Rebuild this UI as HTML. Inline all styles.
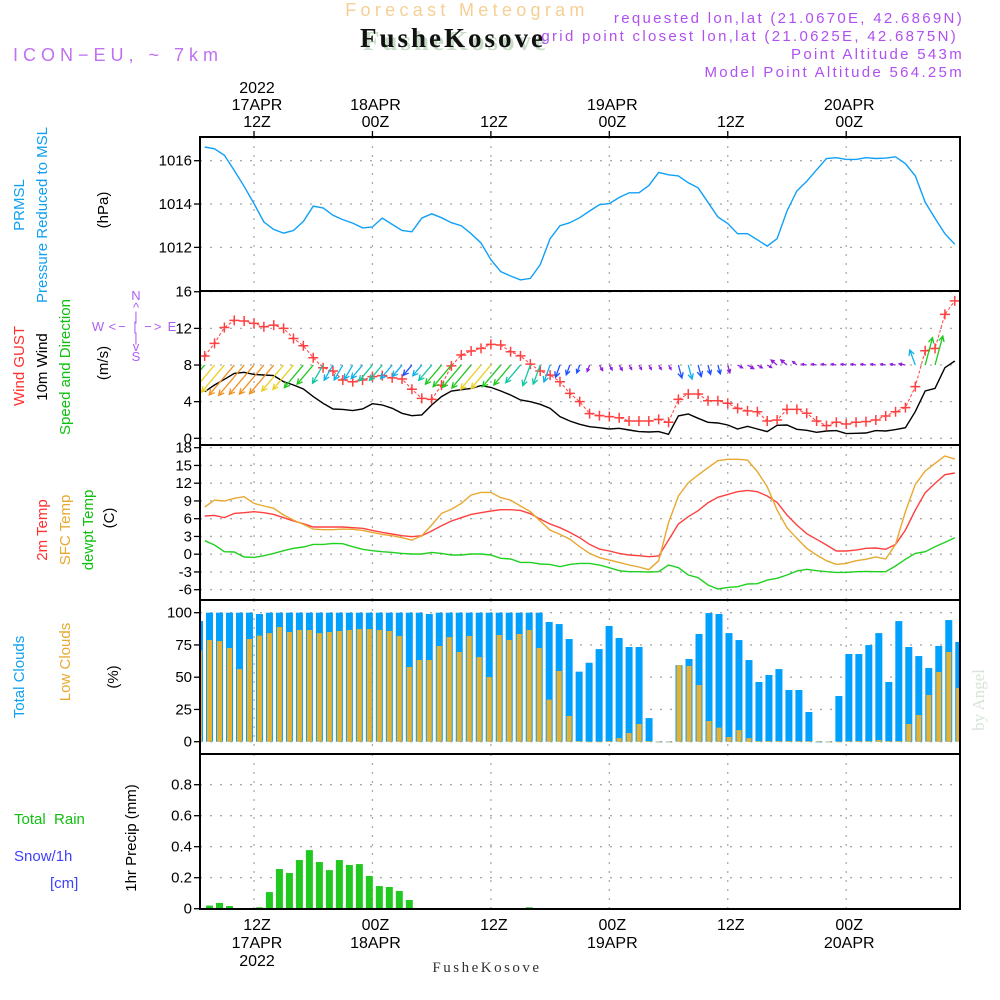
<!DOCTYPE html>
<html><head><meta charset="utf-8">
<style>
html,body{margin:0;padding:0;background:#fff;}
svg{display:block;font-family:"Liberation Sans",sans-serif;}
</style></head>
<body>
<svg id="chart" width="1000" height="1000" viewBox="0 0 1000 1000" xmlns="http://www.w3.org/2000/svg">
<g>
<text x="467" y="16" font-size="18" fill="#f5cf95" text-anchor="middle" letter-spacing="4.3">Forecast Meteogram</text>
<text x="456" y="50" font-size="27" font-weight="bold" font-family="Liberation Serif,serif" fill="#c8dcc8" text-anchor="middle" letter-spacing="3">FusheKosove</text>
<text x="453" y="47" font-size="27" font-weight="bold" font-family="Liberation Serif,serif" fill="#111" text-anchor="middle" letter-spacing="3">FusheKosove</text>
<text x="13" y="61" font-size="18" fill="#c070f0" letter-spacing="5">ICON−EU, ~ 7km</text>
<g font-size="15" fill="#b050f0" text-anchor="end" letter-spacing="2.3">
<text x="964" y="23">requested lon,lat (21.0670E, 42.6869N)</text>
<text x="958" y="41">grid point closest lon,lat (21.0625E, 42.6875N)</text>
<text x="964" y="59">Point Altitude 543m</text>
<text x="964" y="77">Model Point Altitude 564.25m</text>
</g>
</g>
<g id="main"></g>
<g>
<text transform="translate(24,205) rotate(-90)" font-size="15" fill="#10a0f0" text-anchor="middle">PRMSL</text>
<text transform="translate(47,215) rotate(-90)" font-size="15" fill="#10a0f0" text-anchor="middle">Pressure Reduced to MSL</text>
<text transform="translate(108,210) rotate(-90)" font-size="15" fill="#000" text-anchor="middle">(hPa)</text>
<text transform="translate(24,366) rotate(-90)" font-size="15" fill="#ff3030" text-anchor="middle">Wind GUST</text>
<text transform="translate(47,367) rotate(-90)" font-size="15" fill="#000" text-anchor="middle">10m Wind</text>
<text transform="translate(70,367) rotate(-90)" font-size="15" fill="#10c010" text-anchor="middle">Speed and Direction</text>
<text transform="translate(108,363) rotate(-90)" font-size="15" fill="#000" text-anchor="middle">(m/s)</text>
<g font-size="13" fill="#b060f0">
<text x="136" y="300" text-anchor="middle">N</text>
<text x="136" y="312" text-anchor="middle">^</text>
<text x="136" y="321" text-anchor="middle">|</text>
<text x="98" y="331" text-anchor="middle">W</text>
<text x="136" y="331" text-anchor="middle" letter-spacing="2">&lt;− | −&gt;</text>
<text x="172" y="331" text-anchor="middle">E</text>
<text x="136" y="342" text-anchor="middle">|</text>
<text x="136" y="351" text-anchor="middle">v</text>
<text x="136" y="361" text-anchor="middle">S</text>
</g>
<text transform="translate(47,530) rotate(-90)" font-size="15" fill="#ff3030" text-anchor="middle">2m Temp</text>
<text transform="translate(70,530) rotate(-90)" font-size="15" fill="#e8a830" text-anchor="middle">SFC Temp</text>
<text transform="translate(93,530) rotate(-90)" font-size="15" fill="#10c010" text-anchor="middle">dewpt Temp</text>
<text transform="translate(114,518) rotate(-90)" font-size="15" fill="#000" text-anchor="middle">(C)</text>
<text transform="translate(24,677) rotate(-90)" font-size="15" fill="#10a0f0" text-anchor="middle">Total Clouds</text>
<text transform="translate(70,662) rotate(-90)" font-size="15" fill="#e8a830" text-anchor="middle">Low Clouds</text>
<text transform="translate(118,677) rotate(-90)" font-size="15" fill="#000" text-anchor="middle">(%)</text>
<text x="14" y="824" font-size="15" fill="#10c010" xml:space="preserve">Total  Rain</text>
<text x="14" y="861" font-size="15" fill="#4040ff">Snow/1h</text>
<text x="50" y="888" font-size="15" fill="#4040ff">[cm]</text>
<text transform="translate(136,838) rotate(-90)" font-size="15" fill="#000" text-anchor="middle">1hr Precip (mm)</text>
</g>
<text transform="translate(984,700) rotate(-90)" font-size="17" font-family="Liberation Serif,serif" fill="#d8e4d8" text-anchor="middle">by Angel</text>
<text x="487" y="972" font-size="15" font-family="Liberation Serif,serif" fill="#333" text-anchor="middle" letter-spacing="2.5">FusheKosove</text>
</svg>
<script>
// ---- data (hours since 17APR 00Z) ----
const hoursStart = 7;
const pressure = [1016.63,1016.55,1016.25,1015.55,1014.82,1014.02,1013.17,1012.83,1012.66,1012.78,1013.2,1013.9,1013.82,1013.48,1013.28,1013.12,1012.9,1012.94,1013.35,1013.06,1012.78,1012.72,1013.35,1013.55,1013.37,1013.14,1013.0,1012.63,1012.2,1011.43,1010.88,1010.68,1010.5,1010.57,1011.2,1012.4,1013.0,1013.14,1013.37,1013.68,1013.97,1014.02,1014.3,1014.52,1014.52,1014.85,1015.46,1015.35,1015.3,1014.98,1014.75,1014.08,1013.4,1013.1,1012.63,1012.63,1012.35,1012.06,1012.4,1013.68,1014.6,1015.05,1015.58,1016.1,1016.14,1016.06,1016.06,1016.14,1016.1,1016.12,1016.18,1015.86,1015.3,1014.08,1013.34,1012.63,1012.14];
const windGust = [8.98,10.36,12.1,12.87,12.8,12.55,12.18,12.36,12.0,10.9,10.1,8.8,7.7,7.35,6.36,6.18,6.36,6.73,6.84,6.6,6.47,5.35,4.36,4.25,5.8,7.9,9.1,9.53,9.82,10.25,10.18,9.45,9.0,8.1,7.35,6.9,6.18,4.9,4.0,2.7,2.47,2.36,2.25,1.89,1.89,1.89,2.07,1.75,4.25,4.84,4.84,4.1,4.1,3.82,3.27,3.0,2.9,1.89,2.0,3.16,3.16,2.73,1.89,1.38,1.75,1.56,1.75,1.82,2.0,2.44,2.9,3.35,5.64,9.56,9.82,13.53,15.0];
const wind10m = [5.09,5.82,6.44,7.09,7.2,6.98,6.91,6.84,6.18,5.82,5.38,4.55,3.82,3.2,3.16,3.02,3.2,3.78,3.64,3.27,2.73,2.47,2.55,3.64,4.55,5.16,5.31,5.45,5.75,5.56,5.16,4.73,4.18,4.0,3.71,3.27,2.36,1.89,1.53,1.27,1.16,1.02,1.09,0.91,0.73,0.69,0.73,0.44,2.44,2.65,2.18,1.75,1.67,1.45,1.02,1.31,1.02,0.73,1.42,1.45,0.98,0.87,0.65,0.8,0.84,0.51,0.55,0.58,0.84,0.8,0.95,1.16,2.91,5.16,5.45,7.71,8.44];
const windDir = [40,40,40,40,40,40,40,40,40,40,40,40,30,30,30,30,40,40,40,40,40,40,40,40,40,40,40,40,40,40,40,40,40,20,20,20,20,20,20,20,330,330,330,330,330,330,330,330,345,345,345,345,345,345,300,300,300,300,130,130,130,100,100,100,100,100,100,100,100,100,100,100,160,195,195,200,200];
const temp2m = [6.45,6.56,6.17,6.9,7.01,7.18,7.01,6.73,6.17,5.61,5.15,4.59,4.59,4.59,4.59,4.48,4.37,4.03,3.69,3.41,3.13,2.96,3.13,3.92,4.82,5.61,6.17,6.73,7.01,7.3,7.52,7.52,7.41,6.85,5.94,5.1,4.48,3.69,2.79,1.66,0.87,0.54,0.14,-0.14,-0.25,-0.42,-0.31,2.39,5.1,6.34,7.35,8.7,9.61,10.11,10.56,10.79,10.56,9.83,8.76,6.62,4.93,3.46,2.51,1.55,0.54,0.54,0.7,0.99,1.04,0.82,1.66,4.08,7.46,10.39,11.97,13.44,13.72];
const tempSfc = [7.97,9.15,8.99,9.44,9.72,8.59,8.14,7.75,6.62,5.77,5.04,4.25,4.14,4.14,4.25,4.2,4.03,3.69,3.35,3.13,2.79,2.39,3.13,4.93,6.9,7.58,8.59,10.0,10.45,10.45,9.55,9.15,8.14,7.18,5.61,4.08,3.35,2.56,1.27,0.14,-0.59,-0.99,-1.38,-1.83,-2.17,-2.62,-1.1,5.32,9.83,12.08,13.38,14.62,15.8,16.03,16.03,15.92,13.94,11.41,7.46,4.48,2.68,0.99,-0.14,-1.1,-1.72,-1.55,-1.1,-0.87,-0.48,-0.82,1.66,7.18,11.8,14.06,15.35,16.59,16.08];
const dewpoint = [2.28,1.55,0.42,0.37,-0.48,-0.54,-0.25,0.14,0.59,0.99,1.21,1.66,1.66,1.83,1.77,1.27,0.82,0.59,0.42,0.31,0.14,0.03,0.03,0.31,0.14,-0.14,-0.14,0.03,0.03,-0.14,-0.7,-0.82,-1.38,-1.38,-1.66,-1.72,-2.11,-1.72,-1.55,-1.55,-1.83,-2.28,-2.79,-2.96,-2.96,-3.01,-2.96,-1.83,-2.28,-3.52,-3.97,-5.21,-5.89,-5.61,-5.49,-5.04,-4.99,-4.37,-4.08,-3.52,-2.85,-2.56,-2.79,-2.96,-3.07,-3.07,-2.96,-2.9,-2.96,-2.96,-2.0,-0.87,0.14,0.42,1.27,2.0,2.79];
// hourly bars starting at hour 6
const barStart = 6;
const totalClouds = [93.5,100,100,100,100,100,99,100,100,100,100,100,100,100,100,100,100,100,100,100,100,100,100,99,100,100,100,100,100,100,100,100,100,100,100,92.8,91.2,79.6,54.3,61.2,71.8,89.7,80.4,73.4,73.4,18.3,0,0,59.4,64.1,83.5,99.7,99,84.2,78.8,63.3,46.3,51.7,56.3,40.1,40.1,23,0,0,35.4,68,68,74.9,84.2,46.3,93.5,73.4,66.4,57.1,74.2,94.3,77.3];
const lowClouds = [71,78.8,78,72.6,56.3,79.6,82.2,84.2,88.9,85,86.6,86.6,84.2,85,85.8,86.6,87.3,87.3,86.6,85.8,81.9,57.9,63.3,63.3,74.2,81.1,69.5,81.9,65.6,50.1,82.7,78.8,83.5,86.6,72.6,32.6,54.8,19.9,0.5,0,0,0.5,2.8,6.7,13.7,0.5,0,0,59.4,58.7,43.9,16,10.9,3.6,9,2.8,0.5,0.5,0.5,0.5,0.5,0.5,0.5,0,0,0.5,0.5,0.5,1.3,0.5,0.5,13.7,20.7,36.2,54,69.5,41.6];
const precip = [0,0.02,0.037,0.017,0,0,0.009,0.107,0.256,0.23,0.314,0.378,0.301,0.249,0.314,0.282,0.288,0.211,0.146,0.14,0.114,0.056,0,0,0,0,0,0,0,0,0,0,0,0.009,0,0,0,0,0,0,0,0,0,0,0,0,0,0,0,0,0,0,0,0,0,0,0,0,0,0,0,0,0,0,0,0,0,0,0,0,0,0,0,0,0,0,0];
const pressureTicks = [1012,1014,1016];
const windTicks = [0,4,8,12,16];
const tempTicks = [-6,-3,0,3,6,9,12,15,18];
const cloudTicks = [0,25,50,75,100];
const precipTicks = [0,0.2,0.4,0.6,0.8];
const timeTickHours = [12,24,36,48,60,72];
const topDateLabels = ["17APR","18APR","","19APR","","20APR"];
const topHourLabels = ["12Z","00Z","12Z","00Z","12Z","00Z"];

// ---- scales ----
const X0=200, X1=960;
const xH = h => 254 + (h-12)*9.87;
const xBar = h => 209.5 + (h-7)*9.99;
const yP = v => 160.7 + (1016-v)*21.67;
const yW = v => 438.3 - v*9.16;
const yT = v => 589.7 - (v+6)*5.917;
const yC = v => 741.7 - v*1.29;
const yR = v => 908.7 - v*155;
const panels = [[137,291,yP,pressureTicks,v=>String(v),'pressure'],[291,445,yW,windTicks,v=>String(v),'wind'],[445,600,yT,tempTicks,v=>String(v),'temperature'],[600,754,yC,cloudTicks,v=>String(v),'clouds'],[754,909,yR,precipTicks,v=>v===0?'0':v.toFixed(1),'precip']];

const NS="http://www.w3.org/2000/svg";
const main=document.getElementById('main');
function mk(tag,attrs,parent){const e=document.createElementNS(NS,tag);for(const k in attrs)e.setAttribute(k,attrs[k]);(parent||main).appendChild(e);return e;}

const defs=mk('defs',{});
panels.forEach((p,i)=>{const c=mk('clipPath',{id:'clip'+i},defs);mk('rect',{x:X0,y:p[0],width:X1-X0,height:p[1]-p[0]},c);});

panels.forEach((p,i)=>{
  const g=mk('g',{});
  
  
  p[3].forEach(t=>{
    const y=p[2](t);
    const gl=mk('line',{x1:X0,x2:X1,y1:y,y2:y,stroke:'#aaa','stroke-width':1.3,'stroke-dasharray':'2,8'},g);
    
    
    mk('line',{x1:X0-6,x2:X0,y1:y,y2:y,stroke:'#000','stroke-width':1.3},g);
    const tx=mk('text',{x:X0-8,y:y+5,'font-size':15,'text-anchor':'end',fill:'#000'},g);
    
    
    tx.textContent=p[4](t);
  });
  timeTickHours.forEach(h=>{
    const x=xH(h);
    const vl=mk('line',{x1:x,x2:x,y1:p[0],y2:p[1],stroke:'#aaa','stroke-width':1.3,'stroke-dasharray':'2,7'},g);
    
    
  });
});

const cg=mk('g',{'clip-path':'url(#clip3)'});


totalClouds.forEach((v,i)=>{
  const xc=xBar(barStart+i);
  const b=mk('rect',{x:xc-3.5,y:yC(v),width:7,height:Math.max(yC(0)-yC(v),0.6),fill:'#00a0ff'},cg);
  
  
});
lowClouds.forEach((v,i)=>{
  const xc=xBar(barStart+i);
  const b=mk('rect',{x:xc-2.5,y:yC(v),width:5,height:Math.max(yC(0)-yC(v),0.6),fill:'#e8b030'},cg);
  
  
});
const rg=mk('g',{'clip-path':'url(#clip4)'});


precip.forEach((v,i)=>{
  if(v<=0)return;
  const xc=xBar(barStart+i);
  const b=mk('rect',{x:xc-3.5,y:yR(v),width:7,height:yR(0)-yR(v),fill:'#20c820'},rg);
  
  
});

function line(arr,ys,color,name,clip,extra){
  const pts=arr.map((v,i)=>xH(hoursStart+i).toFixed(1)+','+ys(v).toFixed(1)).join(' ');
  const pl=mk('polyline',Object.assign({points:pts,fill:'none',stroke:color,'stroke-width':1.4,'clip-path':'url(#clip'+clip+')'},extra||{}));
  
  
  return pl;
}
line(pressure,yP,'#10a0f8','pressure-line',0);
line(temp2m,yT,'#ff4040','temp-2m-line',2);
line(tempSfc,yT,'#e8a830','temp-sfc-line',2);
line(dewpoint,yT,'#20d020','dewpoint-line',2);
line(wind10m,yW,'#000','wind-10m-line',1);
line(windGust,yW,'#ff4040','wind-gust-line',1,{'stroke-dasharray':'3,2','stroke-width':1});
const gm=mk('g',{'clip-path':'url(#clip1)',stroke:'#ff4040','stroke-width':1.5});


windGust.forEach((v,i)=>{
  const x=xH(hoursStart+i), y=yW(v);
  const m=mk('path',{d:`M${x-5},${y}H${x+5}M${x},${y-5}V${y+5}`},gm);
  
  
});
function arrowColor(s){if(s>=6.5)return'#f09020';if(s>=5.5)return'#e8d020';if(s>=4.5)return'#20c820';if(s>=3.5)return'#10c8a0';if(s>=2.5)return'#10b0e8';if(s>=1.5)return'#2050ff';return'#9020e0';}
const wa=mk('g',{'clip-path':'url(#clip1)','stroke-width':1.3,fill:'none'});


wind10m.forEach((s,i)=>{
  if(i>=wind10m.length-2)return;
  const th=(windDir[i]+180)*Math.PI/180;
  const dx=Math.sin(th), dy=-Math.cos(th);
  const L=Math.max(5.5*s,5);
  const x0=xH(hoursStart+i), y0=yW(8);
  const x1=x0+dx*L, y1=y0+dy*L;
  const hl=Math.min(6,L*0.5);
  const a1=th+Math.PI*0.85, a2=th-Math.PI*0.85;
  const d=`M${x0},${y0}L${x1},${y1}M${x1+Math.sin(a1)*hl},${y1-Math.cos(a1)*hl}L${x1},${y1}L${x1+Math.sin(a2)*hl},${y1-Math.cos(a2)*hl}`;
  const a=mk('path',{d:d,stroke:arrowColor(s)},wa);
  
  
});

panels.forEach(p=>{
  const fr=mk('rect',{x:X0,y:p[0],width:X1-X0,height:p[1]-p[0],fill:'none',stroke:'#000','stroke-width':2});
  
  
});

timeTickHours.forEach((h,i)=>{
  const x=xH(h)+3;
  mk('line',{x1:x-3,x2:x-3,y1:131,y2:137,stroke:'#000','stroke-width':1.3});
  const t1=mk('text',{x:x,y:127,'font-size':16,'text-anchor':'middle',fill:'#000'});
  
  
  t1.textContent=topHourLabels[i];
  if(topDateLabels[i]){
    const t2=mk('text',{x:x,y:110,'font-size':16,'text-anchor':'middle',fill:'#000'});
    
    
    t2.textContent=topDateLabels[i];
  }
  const b1=mk('text',{x:x,y:930,'font-size':16,'text-anchor':'middle',fill:'#000'});
  
  
  b1.textContent=topHourLabels[i];
  if(topDateLabels[i]){
    const b2=mk('text',{x:x,y:948,'font-size':16,'text-anchor':'middle',fill:'#000'});
    
    
    b2.textContent=topDateLabels[i];
  }
});
const y1=mk('text',{x:xH(12)+3,y:93,'font-size':16,'text-anchor':'middle',fill:'#000'});


y1.textContent='2022';
const y2=mk('text',{x:xH(12)+3,y:966,'font-size':16,'text-anchor':'middle',fill:'#000'});


y2.textContent='2022';
</script>
</body></html>
